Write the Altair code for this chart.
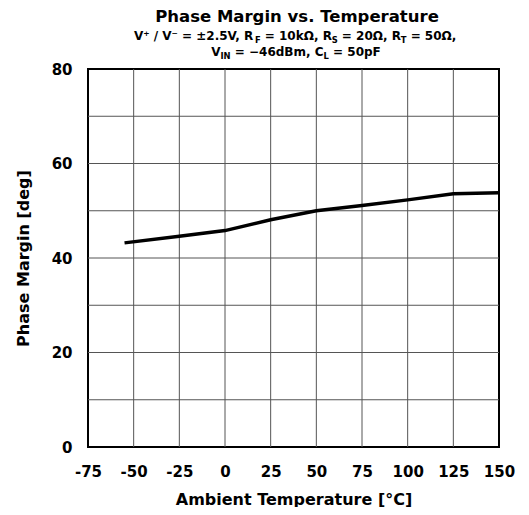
import altair as alt
import pandas as pd

# ---- data ----
temperature = [-55, -25, 0, 25, 50, 75, 100, 125, 150]
phase_margin = [43.2, 44.6, 45.8, 48.1, 50.0, 51.1, 52.3, 53.6, 53.8]

x_ticks = [-75, -50, -25, 0, 25, 50, 75, 100, 125, 150]
y_ticks = [0, 20, 40, 60, 80]
x_grid = [-50, -25, 0, 25, 50, 75, 100, 125]
y_grid = [10, 20, 30, 40, 50, 60, 70]

title_text = "Phase Margin vs. Temperature"
sub_line1 = [("V⁺ / V⁻ = ±2.5V, R", False), ("F", True), (" = 10kΩ, R", False),
             ("S", True), (" = 20Ω, R", False), ("T", True), (" = 50Ω,", False)]
sub_line2 = [("V", False), ("IN", True), (" = −46dBm, C", False), ("L", True),
             (" = 50pF", False)]
x_title = "Ambient Temperature [°C]"
y_title = "Phase Margin [deg]"

# ---- style ----
FONT = "DejaVu Sans"
W, H = 411, 378
GRID = "#555555"

# approximate DejaVu Sans Bold advance widths (em) for centering rich text
EM = {" ": .348, ",": .380, ".": .380, "/": .365, "=": .838, "±": .838, "−": .838,
      "V": .774, "R": .770, "F": .683, "S": .720, "T": .682, "I": .372, "N": .837,
      "C": .734, "L": .637, "B": .762, "k": .665, "d": .716, "m": 1.042, "p": .716,
      "Ω": .830, "⁺": .528, "⁻": .528}
for dgt in "0123456789":
    EM[dgt] = .696


def tw(s, size):
    return sum(EM.get(c, .6) for c in s) * size


def rich_line(segments, cx, by, size, sub_size, sub_shift):
    total = sum(tw(t, sub_size if sub else size) for t, sub in segments)
    x = cx - total / 2
    out = []
    for t, sub in segments:
        fs = sub_size if sub else size
        lead = len(t) - len(t.lstrip(" "))
        xd = x + lead * EM[" "] * fs
        out.append(
            alt.Chart(pd.DataFrame({"t": [t.strip()]}))
            .mark_text(align="left", baseline="alphabetic", font=FONT,
                       fontWeight="bold", fontSize=fs, color="black")
            .encode(x=alt.value(xd), y=alt.value(by + (sub_shift if sub else 0)),
                    text="t:N")
        )
        x += tw(t, fs)
    return out


x_scale = alt.Scale(domain=[-75, 150], nice=False, zero=False)
y_scale = alt.Scale(domain=[0, 80], nice=False)

x_axis = alt.Axis(values=x_ticks, title=x_title, labelExpr="'' + datum.value",
                  labelPadding=17, labelOverlap=False, labelBound=False,
                  labelFlush=False, titleX=W / 2, titleY=57,
                  titleBaseline="alphabetic")
y_axis = alt.Axis(values=y_ticks, title=y_title, labelExpr="'' + datum.value",
                  labelPadding=16, labelOverlap=False, labelFlush=False,
                  titleX=-60, titleY=H / 2, titleBaseline="alphabetic")

vgrid = alt.Chart(pd.DataFrame({"v": x_grid})).mark_rule(
    color=GRID, strokeWidth=1).encode(x=alt.X("v:Q", scale=x_scale, axis=x_axis))
hgrid = alt.Chart(pd.DataFrame({"v": y_grid})).mark_rule(
    color=GRID, strokeWidth=1).encode(y=alt.Y("v:Q", scale=y_scale, axis=y_axis))

line = alt.Chart(pd.DataFrame({"t": temperature, "pm": phase_margin})).mark_line(
    color="black", strokeWidth=3.5).encode(
    x=alt.X("t:Q", scale=x_scale, axis=x_axis),
    y=alt.Y("pm:Q", scale=y_scale, axis=y_axis),
)

title_layer = alt.Chart(pd.DataFrame({"t": [title_text]})).mark_text(
    align="center", baseline="alphabetic", font=FONT, fontWeight="bold",
    fontSize=16.5, color="black").encode(x=alt.value(209), y=alt.value(-47), text="t:N")

layers = [vgrid, hgrid, line, title_layer]
layers += rich_line(sub_line1, 207, -29, 12, 8.4, 3)
layers += rich_line(sub_line2, 208, -13, 12, 8.4, 3)

chart = alt.layer(*layers).properties(
    width=W, height=H,
    autosize=alt.AutoSizeParams(type="none"),
    padding={"left": 80, "top": 61, "right": 20, "bottom": 60},
).configure_view(stroke="black", strokeWidth=2).configure_axis(
    grid=False, ticks=False, domain=False,
    labelFont=FONT, labelFontSize=15, labelFontWeight="bold", labelColor="black",
    titleFont=FONT, titleFontSize=16, titleFontWeight="bold", titleColor="black",
)

chart.save("out.html", embed_options={"renderer": "svg", "actions": False})
